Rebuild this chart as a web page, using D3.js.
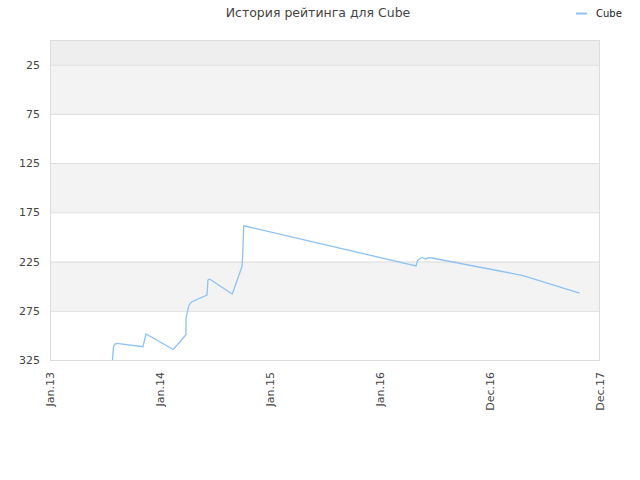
<!DOCTYPE html>
<html>
<head>
<meta charset="utf-8">
<script src="https://cdn.jsdelivr.net/npm/d3@7"></script>
<style>
    body { margin: 0; background: #fff; }
    #chart { width: 640px; height: 480px; }
    text { font-family: "DejaVu Sans", sans-serif; }
</style>
</head>
<body>
<div id="chart"></div>
<script>
// x position in axis-label units (0 = Jan.13, 1 = Jan.14, ...)
const xLabels = ["Jan.13", "Jan.14", "Jan.15", "Jan.16", "Dec.16", "Dec.17"];
const yTicks = [25, 75, 125, 175, 225, 275, 325];
const seriesName = "Cube";
const pos = [0.568, 0.577, 0.591, 0.609, 0.845, 0.873, 1.121, 1.236, 1.236, 1.264,
    1.286, 1.427, 1.436, 1.45, 1.657, 1.734, 1.745, 1.752, 1.761, 1.773,
    3.327, 3.341, 3.364, 3.386, 3.414, 3.445, 3.473, 4.3, 4.814];
const rank = [325, 311.8, 308.8, 308.2, 311.5, 298.6, 314.3, 299.3, 282.6, 269.1,
    266.1, 259, 243.8, 242.7, 258, 233.6, 230.2, 218.4, 188.9, 188.9,
    229.5, 224, 221.9, 220.9, 222.4, 221.1, 221.4, 239.2, 257];

const width = 640, height = 480;
const plotLeft = 50, plotRight = 600, plotTop = 40, plotBottom = 360;

const svg = d3.select("#chart").append("svg")
    .attr("width", width)
    .attr("height", height);

const xScale = d3.scaleLinear().domain([0, xLabels.length - 1]).range([plotLeft, plotRight]);
const yScale = d3.scaleLinear().domain([0, 325]).range([plotTop, plotBottom]);

// background bands
const bands = [[0, 25, "#eeeeee"]];
for (let i = 0; i < yTicks.length - 1; i++) {
    bands.push([yTicks[i], yTicks[i + 1], i % 2 === 0 ? "#f3f3f3" : "#ffffff"]);
}
svg.selectAll(".band")
    .data(bands)
    .enter()
    .append("rect")
    .attr("x", plotLeft)
    .attr("width", plotRight - plotLeft)
    .attr("y", d => yScale(d[0]))
    .attr("height", d => yScale(d[1]) - yScale(d[0]))
    .attr("fill", d => d[2]);

// grid lines
svg.selectAll(".grid")
    .data(yTicks)
    .enter()
    .append("line")
    .attr("x1", plotLeft)
    .attr("x2", plotRight)
    .attr("y1", d => yScale(d) + 0.5)
    .attr("y2", d => yScale(d) + 0.5)
    .style("stroke", "#dddddd");

svg.append("rect")
    .attr("x", plotLeft + 0.5)
    .attr("y", plotTop + 0.5)
    .attr("width", plotRight - plotLeft - 1)
    .attr("height", plotBottom - plotTop)
    .attr("fill", "none")
    .style("stroke", "#dddddd");

const yAxis = d3.axisLeft(yScale)
    .tickValues(yTicks)
    .tickSize(0)
    .tickPadding(10);

const gy = svg.append("g")
    .attr("transform", `translate(${plotLeft},0)`)
    .call(yAxis);
gy.select(".domain").remove();
gy.selectAll("text")
    .style("fill", "#444")
    .style("font-size", "11px");

const xAxis = d3.axisBottom(xScale)
    .tickValues(d3.range(xLabels.length))
    .tickSize(0)
    .tickFormat(d => xLabels[d]);

const gx = svg.append("g")
    .attr("transform", `translate(0,${plotBottom})`)
    .call(xAxis);
gx.select(".domain").remove();
gx.selectAll("text")
    .attr("transform", "rotate(-90)")
    .attr("x", -12)
    .attr("y", 0)
    .attr("dy", "0.35em")
    .style("text-anchor", "end")
    .style("fill", "#444")
    .style("font-size", "11px");

const lineGenerator = d3.line()
    .x((d, i) => xScale(pos[i]))
    .y(d => yScale(d));

svg.append("path")
    .datum(rank)
    .attr("fill", "none")
    .attr("stroke", "#8ec2f3")
    .attr("stroke-width", 1.3)
    .attr("d", lineGenerator);

svg.append("text")
    .attr("x", 318)
    .attr("y", 17)
    .attr("text-anchor", "middle")
    .style("fill", "#444")
    .style("font-size", "12.5px")
    .text("История рейтинга для " + seriesName);

svg.append("line")
    .attr("x1", 576)
    .attr("x2", 587)
    .attr("y1", 13.5)
    .attr("y2", 13.5)
    .style("stroke", "#8ec2f3")
    .style("stroke-width", 2);

svg.append("text")
    .attr("x", 596)
    .attr("y", 17)
    .style("fill", "#222")
    .style("font-size", "10px")
    .text(seriesName);
</script>
</body>
</html>
